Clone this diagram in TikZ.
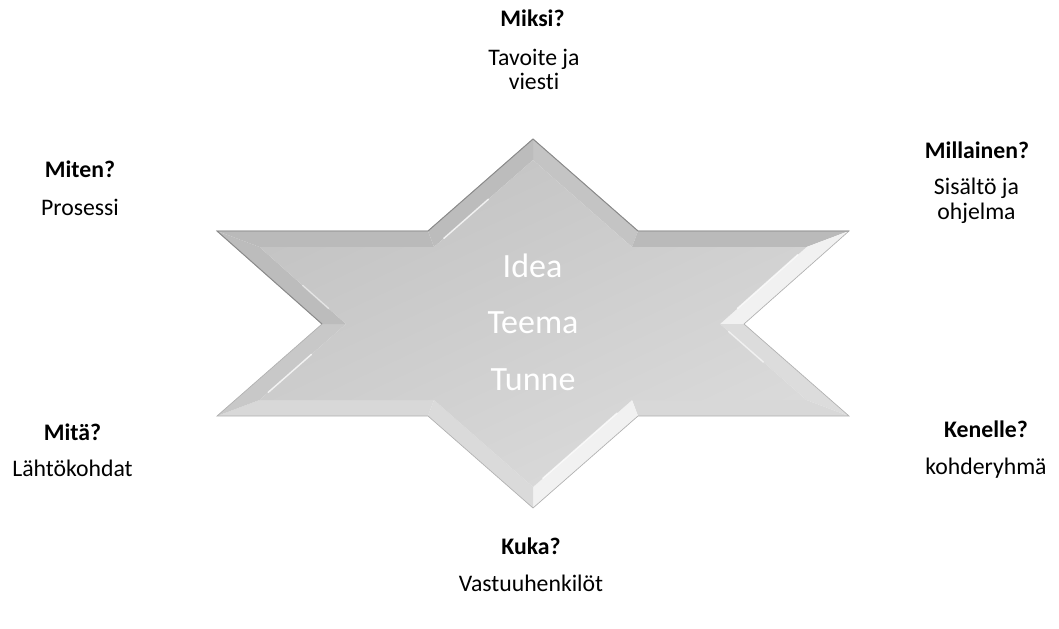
\documentclass[tikz,border=0pt]{standalone}
\usepackage{fontspec}
\setmainfont{Carlito}[Ligatures={NoCommon}]
\usetikzlibrary{calc}
\definecolor{facetA}{HTML}{BCBCBC}
\definecolor{facetB}{HTML}{C4C4C4}
\definecolor{facetTop}{HTML}{BABABA}
\definecolor{facetDR}{HTML}{F1F1F1}
\definecolor{facetUR}{HTML}{DCDCDC}
\definecolor{facetDown}{HTML}{D8D8D8}
\definecolor{facetDL}{HTML}{DADADA}
\definecolor{facetUL}{HTML}{C8C8C8}
\definecolor{faceTop}{HTML}{C3C3C3}
\definecolor{faceBot}{HTML}{DBDBDB}
\definecolor{rimDark}{HTML}{8A8A8A}
\definecolor{rimLight}{HTML}{B0B0B0}
\newcommand{\lblsize}{\fontsize{17.8pt}{21pt}\selectfont}
\newcommand{\bigsize}{\fontsize{25.5pt}{30pt}\selectfont}
\begin{document}
\begin{tikzpicture}[x=0.75pt,y=-0.75pt,
  lbl/.style={anchor=base,inner sep=0pt,font=\lblsize},
  qlbl/.style={anchor=base,inner sep=0pt,font=\lblsize\bfseries},
  ctext/.style={anchor=base,inner sep=0pt,text=white,font=\bigsize},
  hilite/.style={white,opacity=0.75,line width=1.1pt,line cap=round}]
\useasboundingbox (0,0) rectangle (1059,628);
% outer vertices
\coordinate (V0) at (533,139);
\coordinate (V1) at (638,231);
\coordinate (V2) at (849,231);
\coordinate (V3) at (744,324);
\coordinate (V4) at (849,416);
\coordinate (V5) at (638,416);
\coordinate (V6) at (533,508);
\coordinate (V7) at (428,416);
\coordinate (V8) at (217,416);
\coordinate (V9) at (322,324);
\coordinate (V10) at (217,231);
\coordinate (V11) at (428,231);
% inner (bevel) vertices
\coordinate (I0) at (533,160);
\coordinate (I1) at (632,247);
\coordinate (I2) at (806.5,247);
\coordinate (I3) at (720,324);
\coordinate (I4) at (806.5,400);
\coordinate (I5) at (632,400);
\coordinate (I6) at (533,487);
\coordinate (I7) at (434,400);
\coordinate (I8) at (259.5,400);
\coordinate (I9) at (346,324);
\coordinate (I10) at (259.5,247);
\coordinate (I11) at (434,247);
% facets
\fill[facetB]   (V0) -- (V1) -- (I1) -- (I0) -- cycle;
\fill[facetTop] (V1) -- (V2) -- (I2) -- (I1) -- cycle;
\fill[facetDR]  (V2) -- (V3) -- (I3) -- (I2) -- cycle;
\fill[facetUR]  (V3) -- (V4) -- (I4) -- (I3) -- cycle;
\fill[facetDown](V4) -- (V5) -- (I5) -- (I4) -- cycle;
\fill[facetDR]  (V5) -- (V6) -- (I6) -- (I5) -- cycle;
\fill[facetDL]  (V6) -- (V7) -- (I7) -- (I6) -- cycle;
\fill[facetDown](V7) -- (V8) -- (I8) -- (I7) -- cycle;
\fill[facetUL]  (V8) -- (V9) -- (I9) -- (I8) -- cycle;
\fill[facetA]   (V9) -- (V10) -- (I10) -- (I9) -- cycle;
\fill[facetTop] (V10) -- (V11) -- (I11) -- (I10) -- cycle;
\fill[facetA]   (V11) -- (V0) -- (I0) -- (I11) -- cycle;
% inner face
\shade[top color=faceTop,bottom color=faceBot,shading angle=25]
  (I0) -- (I1) -- (I2) -- (I3) -- (I4) -- (I5) -- (I6) -- (I7) -- (I8) -- (I9) -- (I10) -- (I11) -- cycle;
% highlights along the bevel
\draw[hilite] ($(I11)!0.1!(I0)$) -- ($(I11)!0.55!(I0)$);
\draw[hilite] ($(I8)!0.1!(I9)$) -- ($(I8)!0.6!(I9)$);
\draw[hilite] ($(I2)!0.1!(I3)$) -- ($(I2)!0.8!(I3)$);
\draw[hilite,opacity=0.6] ($(I3)!0.1!(I4)$) -- ($(I3)!0.5!(I4)$);
\draw[hilite] ($(I5)!0.15!(I6)$) -- ($(I5)!0.9!(I6)$);
\draw[hilite,opacity=0.5] ($(I9)!0.2!(I10)$) -- ($(I9)!0.5!(I10)$);
% rim
\draw[rimLight,line width=0.5pt,line join=miter]
  (V0) -- (V1) -- (V2) -- (V3) -- (V4) -- (V5) -- (V6) -- (V7) -- (V8) -- (V9) -- (V10) -- (V11) -- cycle;
\draw[rimDark,line width=0.7pt,line join=miter] (V9) -- (V10) -- (V11) -- (V0) -- (V1) -- (V2);
% centre text
\node[ctext] (idea)  at (532.5,277) {Idea};
\node[ctext] (teema) at (533,333) {Teema};
\node[ctext] (tunne) at (533,390) {Tunne};
% labels
\node[qlbl] (miksi)     at (532.5,26.5) {Miksi?};
\node[lbl]  (tavoite)   at (534,65.5) {Tavoite ja};
\node[lbl]  (viesti)    at (534,89.5) {viesti};
\node[qlbl] (miten)     at (80,177.5) {Miten?};
\node[lbl]  (prosessi)  at (80,215) {Prosessi};
\node[qlbl] (millainen) at (977,158) {Millainen?};
\node[lbl]  (sisalto)   at (976.5,194.5) {Sisältö ja};
\node[lbl]  (ohjelma)   at (976.5,219.5) {ohjelma};
\node[qlbl] (mita)      at (72.5,440) {Mitä?};
\node[lbl]  (lahto)     at (72.5,476.5) {Lähtökohdat};
\node[qlbl] (kenelle)   at (986,437) {Kenelle?};
\node[lbl]  (kohde)     at (986,474) {kohderyhmä};
\node[qlbl] (kuka)      at (531,554) {Kuka?};
\node[lbl]  (vastuu)    at (531,591) {Vastuuhenkilöt};
\end{tikzpicture}
\end{document}
